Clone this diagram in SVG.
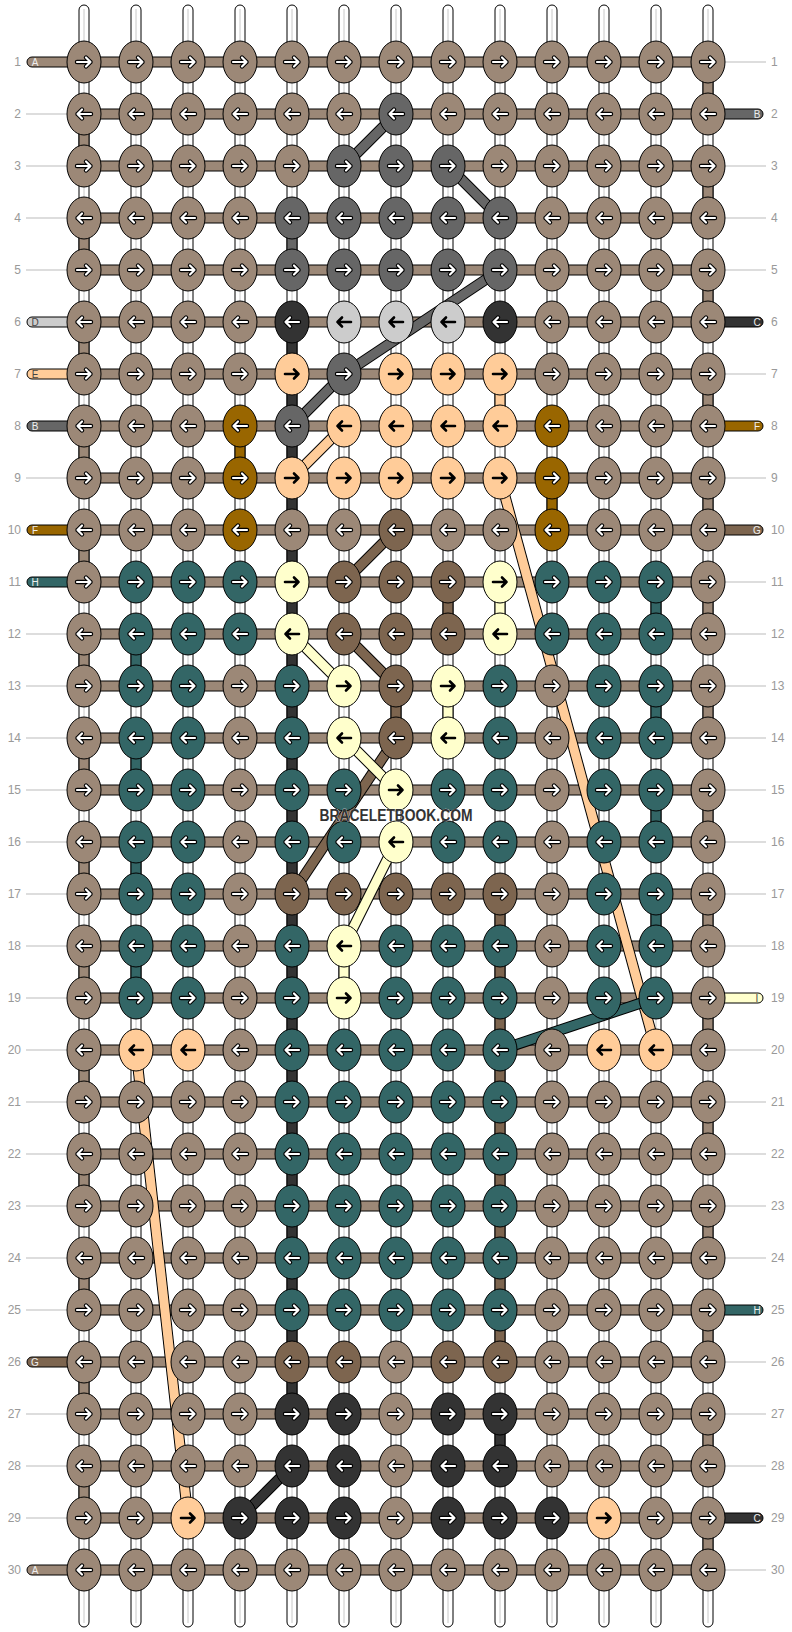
<svg xmlns="http://www.w3.org/2000/svg" xmlns:xlink="http://www.w3.org/1999/xlink" width="792" height="1632" viewBox="0 0 792 1632">
<style>
.T{fill:#9c8877}.G{fill:#666666}.K{fill:#333333}.L{fill:#cccccc}.P{fill:#ffcc99}.O{fill:#996600}.M{fill:#7d654f}.E{fill:#336666}.Y{fill:#ffffcc}
ellipse{stroke:#000;stroke-width:1}
.str{fill:#fff;stroke:#000;stroke-width:1}
.sl{stroke:#c8c8c8;stroke-width:1}
.band{fill:#9c8877;stroke:#000;stroke-width:1}
.seg{stroke:#000;stroke-width:1}
.stub{stroke:#000;stroke-width:1}
.ol{stroke:#000;stroke-width:11;stroke-linecap:butt}
.dg{stroke-width:9;stroke-linecap:butt}
.num{font-family:"Liberation Sans",Arial,sans-serif;font-size:12px;fill:#999}
.lab{font-family:"Liberation Sans",Arial,sans-serif;font-size:10px;fill:#eee;text-anchor:middle}
.labd{fill:#444}
.tl{stroke:#bbb;stroke-width:1}
</style>
<defs>
<path id="pr" d="M-7,0H6.5M2,-4.5L6.5,0L2,4.5"/>
<path id="pl" d="M7,0H-6.5M-2,-4.5L-6.5,0L-2,4.5"/>
<g id="awr" fill="none" stroke-linecap="round" stroke-linejoin="round"><use xlink:href="#pr" stroke="#000" stroke-width="4.4"/><use xlink:href="#pr" stroke="#fff" stroke-width="2.2"/></g>
<g id="awl" fill="none" stroke-linecap="round" stroke-linejoin="round"><use xlink:href="#pl" stroke="#000" stroke-width="4.4"/><use xlink:href="#pl" stroke="#fff" stroke-width="2.2"/></g>
<g id="abr" fill="none" stroke-linecap="round" stroke-linejoin="round"><use xlink:href="#pr" stroke="#000" stroke-width="2.6"/></g>
<g id="abl" fill="none" stroke-linecap="round" stroke-linejoin="round"><use xlink:href="#pl" stroke="#000" stroke-width="2.6"/></g>
<g id="Tr"><ellipse class="T" rx="17" ry="21"/><use xlink:href="#awr"/></g>
<g id="Tl"><ellipse class="T" rx="17" ry="21"/><use xlink:href="#awl"/></g>
<g id="Gr"><ellipse class="G" rx="17" ry="21"/><use xlink:href="#awr"/></g>
<g id="Gl"><ellipse class="G" rx="17" ry="21"/><use xlink:href="#awl"/></g>
<g id="Kr"><ellipse class="K" rx="17" ry="21"/><use xlink:href="#awr"/></g>
<g id="Kl"><ellipse class="K" rx="17" ry="21"/><use xlink:href="#awl"/></g>
<g id="Or"><ellipse class="O" rx="17" ry="21"/><use xlink:href="#awr"/></g>
<g id="Ol"><ellipse class="O" rx="17" ry="21"/><use xlink:href="#awl"/></g>
<g id="Mr"><ellipse class="M" rx="17" ry="21"/><use xlink:href="#awr"/></g>
<g id="Ml"><ellipse class="M" rx="17" ry="21"/><use xlink:href="#awl"/></g>
<g id="Er"><ellipse class="E" rx="17" ry="21"/><use xlink:href="#awr"/></g>
<g id="El"><ellipse class="E" rx="17" ry="21"/><use xlink:href="#awl"/></g>
<g id="Pr"><ellipse class="P" rx="17" ry="21"/><use xlink:href="#abr"/></g>
<g id="Pl"><ellipse class="P" rx="17" ry="21"/><use xlink:href="#abl"/></g>
<g id="Ll"><ellipse class="L" rx="17" ry="21"/><use xlink:href="#abl"/></g>
<g id="Yr"><ellipse class="Y" rx="17" ry="21"/><use xlink:href="#abr"/></g>
<g id="Yl"><ellipse class="Y" rx="17" ry="21"/><use xlink:href="#abl"/></g>
</defs>
<rect width="792" height="1632" fill="#fff"/>
<g id="labels">
<text class="num" text-anchor="end" x="21" y="66">1</text><text class="num" text-anchor="end" x="21" y="118">2</text><text class="num" text-anchor="end" x="21" y="170">3</text><text class="num" text-anchor="end" x="21" y="222">4</text><text class="num" text-anchor="end" x="21" y="274">5</text><text class="num" text-anchor="end" x="21" y="326">6</text><text class="num" text-anchor="end" x="21" y="378">7</text><text class="num" text-anchor="end" x="21" y="430">8</text><text class="num" text-anchor="end" x="21" y="482">9</text><text class="num" text-anchor="end" x="21" y="534">10</text><text class="num" text-anchor="end" x="21" y="586">11</text><text class="num" text-anchor="end" x="21" y="638">12</text><text class="num" text-anchor="end" x="21" y="690">13</text><text class="num" text-anchor="end" x="21" y="742">14</text><text class="num" text-anchor="end" x="21" y="794">15</text><text class="num" text-anchor="end" x="21" y="846">16</text><text class="num" text-anchor="end" x="21" y="898">17</text><text class="num" text-anchor="end" x="21" y="950">18</text><text class="num" text-anchor="end" x="21" y="1002">19</text><text class="num" text-anchor="end" x="21" y="1054">20</text><text class="num" text-anchor="end" x="21" y="1106">21</text><text class="num" text-anchor="end" x="21" y="1158">22</text><text class="num" text-anchor="end" x="21" y="1210">23</text><text class="num" text-anchor="end" x="21" y="1262">24</text><text class="num" text-anchor="end" x="21" y="1314">25</text><text class="num" text-anchor="end" x="21" y="1366">26</text><text class="num" text-anchor="end" x="21" y="1418">27</text><text class="num" text-anchor="end" x="21" y="1470">28</text><text class="num" text-anchor="end" x="21" y="1522">29</text><text class="num" text-anchor="end" x="21" y="1574">30</text>
<text class="num" x="771" y="66">1</text><text class="num" x="771" y="118">2</text><text class="num" x="771" y="170">3</text><text class="num" x="771" y="222">4</text><text class="num" x="771" y="274">5</text><text class="num" x="771" y="326">6</text><text class="num" x="771" y="378">7</text><text class="num" x="771" y="430">8</text><text class="num" x="771" y="482">9</text><text class="num" x="771" y="534">10</text><text class="num" x="771" y="586">11</text><text class="num" x="771" y="638">12</text><text class="num" x="771" y="690">13</text><text class="num" x="771" y="742">14</text><text class="num" x="771" y="794">15</text><text class="num" x="771" y="846">16</text><text class="num" x="771" y="898">17</text><text class="num" x="771" y="950">18</text><text class="num" x="771" y="1002">19</text><text class="num" x="771" y="1054">20</text><text class="num" x="771" y="1106">21</text><text class="num" x="771" y="1158">22</text><text class="num" x="771" y="1210">23</text><text class="num" x="771" y="1262">24</text><text class="num" x="771" y="1314">25</text><text class="num" x="771" y="1366">26</text><text class="num" x="771" y="1418">27</text><text class="num" x="771" y="1470">28</text><text class="num" x="771" y="1522">29</text><text class="num" x="771" y="1574">30</text>
</g>
<g id="sidelines">
<line class="tl" x1="26" y1="114" x2="67" y2="114"/><line class="tl" x1="26" y1="166" x2="67" y2="166"/><line class="tl" x1="26" y1="218" x2="67" y2="218"/><line class="tl" x1="26" y1="270" x2="67" y2="270"/><line class="tl" x1="26" y1="478" x2="67" y2="478"/><line class="tl" x1="26" y1="634" x2="67" y2="634"/><line class="tl" x1="26" y1="686" x2="67" y2="686"/><line class="tl" x1="26" y1="738" x2="67" y2="738"/><line class="tl" x1="26" y1="790" x2="67" y2="790"/><line class="tl" x1="26" y1="842" x2="67" y2="842"/><line class="tl" x1="26" y1="894" x2="67" y2="894"/><line class="tl" x1="26" y1="946" x2="67" y2="946"/><line class="tl" x1="26" y1="998" x2="67" y2="998"/><line class="tl" x1="26" y1="1050" x2="67" y2="1050"/><line class="tl" x1="26" y1="1102" x2="67" y2="1102"/><line class="tl" x1="26" y1="1154" x2="67" y2="1154"/><line class="tl" x1="26" y1="1206" x2="67" y2="1206"/><line class="tl" x1="26" y1="1258" x2="67" y2="1258"/><line class="tl" x1="26" y1="1310" x2="67" y2="1310"/><line class="tl" x1="26" y1="1414" x2="67" y2="1414"/><line class="tl" x1="26" y1="1466" x2="67" y2="1466"/><line class="tl" x1="26" y1="1518" x2="67" y2="1518"/>
<line class="tl" x1="725" y1="62" x2="766" y2="62"/><line class="tl" x1="725" y1="166" x2="766" y2="166"/><line class="tl" x1="725" y1="218" x2="766" y2="218"/><line class="tl" x1="725" y1="270" x2="766" y2="270"/><line class="tl" x1="725" y1="374" x2="766" y2="374"/><line class="tl" x1="725" y1="478" x2="766" y2="478"/><line class="tl" x1="725" y1="582" x2="766" y2="582"/><line class="tl" x1="725" y1="634" x2="766" y2="634"/><line class="tl" x1="725" y1="686" x2="766" y2="686"/><line class="tl" x1="725" y1="738" x2="766" y2="738"/><line class="tl" x1="725" y1="790" x2="766" y2="790"/><line class="tl" x1="725" y1="842" x2="766" y2="842"/><line class="tl" x1="725" y1="894" x2="766" y2="894"/><line class="tl" x1="725" y1="946" x2="766" y2="946"/><line class="tl" x1="725" y1="1050" x2="766" y2="1050"/><line class="tl" x1="725" y1="1102" x2="766" y2="1102"/><line class="tl" x1="725" y1="1154" x2="766" y2="1154"/><line class="tl" x1="725" y1="1206" x2="766" y2="1206"/><line class="tl" x1="725" y1="1258" x2="766" y2="1258"/><line class="tl" x1="725" y1="1362" x2="766" y2="1362"/><line class="tl" x1="725" y1="1414" x2="766" y2="1414"/><line class="tl" x1="725" y1="1466" x2="766" y2="1466"/><line class="tl" x1="725" y1="1570" x2="766" y2="1570"/>
</g>
<g id="connectors">
<g id="strands">
<rect class="str" x="79" y="5" width="10" height="1622" rx="5"/><rect class="str" x="131" y="5" width="10" height="1622" rx="5"/><rect class="str" x="183" y="5" width="10" height="1622" rx="5"/><rect class="str" x="235" y="5" width="10" height="1622" rx="5"/><rect class="str" x="287" y="5" width="10" height="1622" rx="5"/><rect class="str" x="339" y="5" width="10" height="1622" rx="5"/><rect class="str" x="391" y="5" width="10" height="1622" rx="5"/><rect class="str" x="443" y="5" width="10" height="1622" rx="5"/><rect class="str" x="495" y="5" width="10" height="1622" rx="5"/><rect class="str" x="547" y="5" width="10" height="1622" rx="5"/><rect class="str" x="599" y="5" width="10" height="1622" rx="5"/><rect class="str" x="651" y="5" width="10" height="1622" rx="5"/><rect class="str" x="703" y="5" width="10" height="1622" rx="5"/>
<line class="sl" x1="84" y1="9" x2="84" y2="1623"/><line class="sl" x1="136" y1="9" x2="136" y2="1623"/><line class="sl" x1="188" y1="9" x2="188" y2="1623"/><line class="sl" x1="240" y1="9" x2="240" y2="1623"/><line class="sl" x1="292" y1="9" x2="292" y2="1623"/><line class="sl" x1="344" y1="9" x2="344" y2="1623"/><line class="sl" x1="396" y1="9" x2="396" y2="1623"/><line class="sl" x1="448" y1="9" x2="448" y2="1623"/><line class="sl" x1="500" y1="9" x2="500" y2="1623"/><line class="sl" x1="552" y1="9" x2="552" y2="1623"/><line class="sl" x1="604" y1="9" x2="604" y2="1623"/><line class="sl" x1="656" y1="9" x2="656" y2="1623"/><line class="sl" x1="708" y1="9" x2="708" y2="1623"/>
</g>
<g id="vsegs">
<rect class="seg T" x="79" y="129" width="10" height="22"/><rect class="seg T" x="79" y="233" width="10" height="22"/><rect class="seg T" x="79" y="337" width="10" height="22"/><rect class="seg T" x="79" y="441" width="10" height="22"/><rect class="seg T" x="79" y="545" width="10" height="22"/><rect class="seg T" x="79" y="649" width="10" height="22"/><rect class="seg T" x="79" y="753" width="10" height="22"/><rect class="seg T" x="79" y="857" width="10" height="22"/><rect class="seg T" x="79" y="961" width="10" height="22"/><rect class="seg T" x="79" y="1065" width="10" height="22"/><rect class="seg T" x="79" y="1169" width="10" height="22"/><rect class="seg T" x="79" y="1273" width="10" height="22"/><rect class="seg T" x="79" y="1377" width="10" height="22"/><rect class="seg T" x="79" y="1481" width="10" height="22"/>
<rect class="seg T" x="703" y="77" width="10" height="22"/><rect class="seg T" x="703" y="181" width="10" height="22"/><rect class="seg T" x="703" y="285" width="10" height="22"/><rect class="seg T" x="703" y="389" width="10" height="22"/><rect class="seg T" x="703" y="493" width="10" height="22"/><rect class="seg T" x="703" y="597" width="10" height="22"/><rect class="seg T" x="703" y="701" width="10" height="22"/><rect class="seg T" x="703" y="805" width="10" height="22"/><rect class="seg T" x="703" y="909" width="10" height="22"/><rect class="seg T" x="703" y="1013" width="10" height="22"/><rect class="seg T" x="703" y="1117" width="10" height="22"/><rect class="seg T" x="703" y="1221" width="10" height="22"/><rect class="seg T" x="703" y="1325" width="10" height="22"/><rect class="seg T" x="703" y="1429" width="10" height="22"/><rect class="seg T" x="703" y="1533" width="10" height="22"/>
<rect class="seg K" x="287" y="337" width="10" height="1062"/>
<rect class="seg G" x="287" y="233" width="10" height="22"/>
<rect class="seg P" x="495" y="389" width="10" height="22"/>
<rect class="seg O" x="235" y="441" width="10" height="22"/>
<rect class="seg O" x="547" y="493" width="10" height="22"/>
<rect class="seg M" x="443" y="597" width="10" height="22"/>
<rect class="seg Y" x="495" y="597" width="10" height="22"/>
<rect class="seg E" x="131" y="649" width="10" height="22"/><rect class="seg E" x="131" y="753" width="10" height="22"/><rect class="seg E" x="131" y="857" width="10" height="22"/><rect class="seg E" x="131" y="961" width="10" height="22"/>
<rect class="seg E" x="651" y="597" width="10" height="22"/><rect class="seg E" x="651" y="701" width="10" height="22"/><rect class="seg E" x="651" y="805" width="10" height="22"/><rect class="seg E" x="651" y="909" width="10" height="22"/>
<rect class="seg M" x="391" y="701" width="10" height="22"/>
<rect class="seg Y" x="443" y="701" width="10" height="22"/>
<rect class="seg M" x="495" y="909" width="10" height="438"/>
<rect class="seg Y" x="339" y="961" width="10" height="22"/>
<rect class="seg K" x="495" y="1429" width="10" height="22"/>
</g>
<g id="stubs">
<rect class="stub T" x="27" y="57" width="62" height="10" rx="5"/>
<rect class="stub L" x="27" y="317" width="62" height="10" rx="5"/>
<rect class="stub P" x="27" y="369" width="62" height="10" rx="5"/>
<rect class="stub G" x="27" y="421" width="62" height="10" rx="5"/>
<rect class="stub O" x="27" y="525" width="62" height="10" rx="5"/>
<rect class="stub E" x="27" y="577" width="62" height="10" rx="5"/>
<rect class="stub M" x="27" y="1357" width="62" height="10" rx="5"/>
<rect class="stub T" x="27" y="1565" width="62" height="10" rx="5"/>
<rect class="stub G" x="703" y="109" width="60" height="10" rx="5"/>
<rect class="stub K" x="703" y="317" width="60" height="10" rx="5"/>
<rect class="stub O" x="703" y="421" width="60" height="10" rx="5"/>
<rect class="stub M" x="703" y="525" width="60" height="10" rx="5"/>
<rect class="stub Y" x="703" y="993" width="60" height="10" rx="5"/>
<rect class="stub E" x="703" y="1305" width="60" height="10" rx="5"/>
<rect class="stub K" x="703" y="1513" width="60" height="10" rx="5"/>
</g>
<g id="bands">
<rect class="band" x="84" y="57" width="624" height="10"/><rect class="band" x="84" y="109" width="624" height="10"/><rect class="band" x="84" y="161" width="624" height="10"/><rect class="band" x="84" y="213" width="624" height="10"/><rect class="band" x="84" y="265" width="624" height="10"/><rect class="band" x="84" y="317" width="624" height="10"/><rect class="band" x="84" y="369" width="624" height="10"/><rect class="band" x="84" y="421" width="624" height="10"/><rect class="band" x="84" y="473" width="624" height="10"/><rect class="band" x="84" y="525" width="624" height="10"/><rect class="band" x="84" y="577" width="624" height="10"/><rect class="band" x="84" y="629" width="624" height="10"/><rect class="band" x="84" y="681" width="624" height="10"/><rect class="band" x="84" y="733" width="624" height="10"/><rect class="band" x="84" y="785" width="624" height="10"/><rect class="band" x="84" y="837" width="624" height="10"/><rect class="band" x="84" y="889" width="624" height="10"/><rect class="band" x="84" y="941" width="624" height="10"/><rect class="band" x="84" y="993" width="624" height="10"/><rect class="band" x="84" y="1045" width="624" height="10"/><rect class="band" x="84" y="1097" width="624" height="10"/><rect class="band" x="84" y="1149" width="624" height="10"/><rect class="band" x="84" y="1201" width="624" height="10"/><rect class="band" x="84" y="1253" width="624" height="10"/><rect class="band" x="84" y="1305" width="624" height="10"/><rect class="band" x="84" y="1357" width="624" height="10"/><rect class="band" x="84" y="1409" width="624" height="10"/><rect class="band" x="84" y="1461" width="624" height="10"/><rect class="band" x="84" y="1513" width="624" height="10"/><rect class="band" x="84" y="1565" width="624" height="10"/>
</g>
<g id="stublabels">
<text class="lab" x="35" y="66">A</text>
<text class="lab labd" x="35" y="326">D</text>
<text class="lab labd" x="35" y="378">E</text>
<text class="lab" x="35" y="430">B</text>
<text class="lab" x="35" y="534">F</text>
<text class="lab" x="35" y="586">H</text>
<text class="lab" x="35" y="1366">G</text>
<text class="lab" x="35" y="1574">A</text>
<text class="lab" x="757" y="118">B</text>
<text class="lab" x="757" y="326">C</text>
<text class="lab" x="757" y="430">F</text>
<text class="lab" x="757" y="534">G</text>
<text class="lab labd" x="757" y="1002">I</text>
<text class="lab" x="757" y="1314">H</text>
<text class="lab" x="757" y="1522">C</text>
</g>
<g id="diagonals">
<line class="ol" x1="396" y1="114" x2="344" y2="166"/><line class="dg" stroke="#666666" x1="396" y1="114" x2="344" y2="166"/>
<line class="ol" x1="448" y1="166" x2="500" y2="218"/><line class="dg" stroke="#666666" x1="448" y1="166" x2="500" y2="218"/>
<line class="ol" x1="500" y1="270" x2="344" y2="374"/><line class="dg" stroke="#666666" x1="500" y1="270" x2="344" y2="374"/>
<line class="ol" x1="344" y1="374" x2="292" y2="426"/><line class="dg" stroke="#666666" x1="344" y1="374" x2="292" y2="426"/>
<line class="ol" x1="344" y1="426" x2="292" y2="478"/><line class="dg" stroke="#ffcc99" x1="344" y1="426" x2="292" y2="478"/>
<line class="ol" x1="500" y1="478" x2="656" y2="1050"/><line class="dg" stroke="#ffcc99" x1="500" y1="478" x2="656" y2="1050"/>
<line class="ol" x1="136" y1="1050" x2="188" y2="1518"/><line class="dg" stroke="#ffcc99" x1="136" y1="1050" x2="188" y2="1518"/>
<line class="ol" x1="396" y1="530" x2="344" y2="582"/><line class="dg" stroke="#7d654f" x1="396" y1="530" x2="344" y2="582"/>
<line class="ol" x1="344" y1="634" x2="396" y2="686"/><line class="dg" stroke="#7d654f" x1="344" y1="634" x2="396" y2="686"/>
<line class="ol" x1="396" y1="738" x2="292" y2="894"/><line class="dg" stroke="#7d654f" x1="396" y1="738" x2="292" y2="894"/>
<line class="ol" x1="292" y1="634" x2="344" y2="686"/><line class="dg" stroke="#ffffcc" x1="292" y1="634" x2="344" y2="686"/>
<line class="ol" x1="344" y1="738" x2="396" y2="790"/><line class="dg" stroke="#ffffcc" x1="344" y1="738" x2="396" y2="790"/>
<line class="ol" x1="396" y1="842" x2="344" y2="946"/><line class="dg" stroke="#ffffcc" x1="396" y1="842" x2="344" y2="946"/>
<line class="ol" x1="656" y1="998" x2="500" y2="1050"/><line class="dg" stroke="#336666" x1="656" y1="998" x2="500" y2="1050"/>
<line class="ol" x1="292" y1="1466" x2="240" y2="1518"/><line class="dg" stroke="#333333" x1="292" y1="1466" x2="240" y2="1518"/>
</g>
</g>
<g id="nodes">
<g id="n1-1"><use xlink:href="#Tr" x="84" y="62"/></g><g id="n1-2"><use xlink:href="#Tr" x="136" y="62"/></g><g id="n1-3"><use xlink:href="#Tr" x="188" y="62"/></g><g id="n1-4"><use xlink:href="#Tr" x="240" y="62"/></g><g id="n1-5"><use xlink:href="#Tr" x="292" y="62"/></g><g id="n1-6"><use xlink:href="#Tr" x="344" y="62"/></g><g id="n1-7"><use xlink:href="#Tr" x="396" y="62"/></g><g id="n1-8"><use xlink:href="#Tr" x="448" y="62"/></g><g id="n1-9"><use xlink:href="#Tr" x="500" y="62"/></g><g id="n1-10"><use xlink:href="#Tr" x="552" y="62"/></g><g id="n1-11"><use xlink:href="#Tr" x="604" y="62"/></g><g id="n1-12"><use xlink:href="#Tr" x="656" y="62"/></g><g id="n1-13"><use xlink:href="#Tr" x="708" y="62"/></g>
<g id="n2-1"><use xlink:href="#Tl" x="84" y="114"/></g><g id="n2-2"><use xlink:href="#Tl" x="136" y="114"/></g><g id="n2-3"><use xlink:href="#Tl" x="188" y="114"/></g><g id="n2-4"><use xlink:href="#Tl" x="240" y="114"/></g><g id="n2-5"><use xlink:href="#Tl" x="292" y="114"/></g><g id="n2-6"><use xlink:href="#Tl" x="344" y="114"/></g><g id="n2-7"><use xlink:href="#Gl" x="396" y="114"/></g><g id="n2-8"><use xlink:href="#Tl" x="448" y="114"/></g><g id="n2-9"><use xlink:href="#Tl" x="500" y="114"/></g><g id="n2-10"><use xlink:href="#Tl" x="552" y="114"/></g><g id="n2-11"><use xlink:href="#Tl" x="604" y="114"/></g><g id="n2-12"><use xlink:href="#Tl" x="656" y="114"/></g><g id="n2-13"><use xlink:href="#Tl" x="708" y="114"/></g>
<g id="n3-1"><use xlink:href="#Tr" x="84" y="166"/></g><g id="n3-2"><use xlink:href="#Tr" x="136" y="166"/></g><g id="n3-3"><use xlink:href="#Tr" x="188" y="166"/></g><g id="n3-4"><use xlink:href="#Tr" x="240" y="166"/></g><g id="n3-5"><use xlink:href="#Tr" x="292" y="166"/></g><g id="n3-6"><use xlink:href="#Gr" x="344" y="166"/></g><g id="n3-7"><use xlink:href="#Gr" x="396" y="166"/></g><g id="n3-8"><use xlink:href="#Gr" x="448" y="166"/></g><g id="n3-9"><use xlink:href="#Tr" x="500" y="166"/></g><g id="n3-10"><use xlink:href="#Tr" x="552" y="166"/></g><g id="n3-11"><use xlink:href="#Tr" x="604" y="166"/></g><g id="n3-12"><use xlink:href="#Tr" x="656" y="166"/></g><g id="n3-13"><use xlink:href="#Tr" x="708" y="166"/></g>
<g id="n4-1"><use xlink:href="#Tl" x="84" y="218"/></g><g id="n4-2"><use xlink:href="#Tl" x="136" y="218"/></g><g id="n4-3"><use xlink:href="#Tl" x="188" y="218"/></g><g id="n4-4"><use xlink:href="#Tl" x="240" y="218"/></g><g id="n4-5"><use xlink:href="#Gl" x="292" y="218"/></g><g id="n4-6"><use xlink:href="#Gl" x="344" y="218"/></g><g id="n4-7"><use xlink:href="#Gl" x="396" y="218"/></g><g id="n4-8"><use xlink:href="#Gl" x="448" y="218"/></g><g id="n4-9"><use xlink:href="#Gl" x="500" y="218"/></g><g id="n4-10"><use xlink:href="#Tl" x="552" y="218"/></g><g id="n4-11"><use xlink:href="#Tl" x="604" y="218"/></g><g id="n4-12"><use xlink:href="#Tl" x="656" y="218"/></g><g id="n4-13"><use xlink:href="#Tl" x="708" y="218"/></g>
<g id="n5-1"><use xlink:href="#Tr" x="84" y="270"/></g><g id="n5-2"><use xlink:href="#Tr" x="136" y="270"/></g><g id="n5-3"><use xlink:href="#Tr" x="188" y="270"/></g><g id="n5-4"><use xlink:href="#Tr" x="240" y="270"/></g><g id="n5-5"><use xlink:href="#Gr" x="292" y="270"/></g><g id="n5-6"><use xlink:href="#Gr" x="344" y="270"/></g><g id="n5-7"><use xlink:href="#Gr" x="396" y="270"/></g><g id="n5-8"><use xlink:href="#Gr" x="448" y="270"/></g><g id="n5-9"><use xlink:href="#Gr" x="500" y="270"/></g><g id="n5-10"><use xlink:href="#Tr" x="552" y="270"/></g><g id="n5-11"><use xlink:href="#Tr" x="604" y="270"/></g><g id="n5-12"><use xlink:href="#Tr" x="656" y="270"/></g><g id="n5-13"><use xlink:href="#Tr" x="708" y="270"/></g>
<g id="n6-1"><use xlink:href="#Tl" x="84" y="322"/></g><g id="n6-2"><use xlink:href="#Tl" x="136" y="322"/></g><g id="n6-3"><use xlink:href="#Tl" x="188" y="322"/></g><g id="n6-4"><use xlink:href="#Tl" x="240" y="322"/></g><g id="n6-5"><use xlink:href="#Kl" x="292" y="322"/></g><g id="n6-6"><use xlink:href="#Ll" x="344" y="322"/></g><g id="n6-7"><use xlink:href="#Ll" x="396" y="322"/></g><g id="n6-8"><use xlink:href="#Ll" x="448" y="322"/></g><g id="n6-9"><use xlink:href="#Kl" x="500" y="322"/></g><g id="n6-10"><use xlink:href="#Tl" x="552" y="322"/></g><g id="n6-11"><use xlink:href="#Tl" x="604" y="322"/></g><g id="n6-12"><use xlink:href="#Tl" x="656" y="322"/></g><g id="n6-13"><use xlink:href="#Tl" x="708" y="322"/></g>
<g id="n7-1"><use xlink:href="#Tr" x="84" y="374"/></g><g id="n7-2"><use xlink:href="#Tr" x="136" y="374"/></g><g id="n7-3"><use xlink:href="#Tr" x="188" y="374"/></g><g id="n7-4"><use xlink:href="#Tr" x="240" y="374"/></g><g id="n7-5"><use xlink:href="#Pr" x="292" y="374"/></g><g id="n7-6"><use xlink:href="#Gr" x="344" y="374"/></g><g id="n7-7"><use xlink:href="#Pr" x="396" y="374"/></g><g id="n7-8"><use xlink:href="#Pr" x="448" y="374"/></g><g id="n7-9"><use xlink:href="#Pr" x="500" y="374"/></g><g id="n7-10"><use xlink:href="#Tr" x="552" y="374"/></g><g id="n7-11"><use xlink:href="#Tr" x="604" y="374"/></g><g id="n7-12"><use xlink:href="#Tr" x="656" y="374"/></g><g id="n7-13"><use xlink:href="#Tr" x="708" y="374"/></g>
<g id="n8-1"><use xlink:href="#Tl" x="84" y="426"/></g><g id="n8-2"><use xlink:href="#Tl" x="136" y="426"/></g><g id="n8-3"><use xlink:href="#Tl" x="188" y="426"/></g><g id="n8-4"><use xlink:href="#Ol" x="240" y="426"/></g><g id="n8-5"><use xlink:href="#Gl" x="292" y="426"/></g><g id="n8-6"><use xlink:href="#Pl" x="344" y="426"/></g><g id="n8-7"><use xlink:href="#Pl" x="396" y="426"/></g><g id="n8-8"><use xlink:href="#Pl" x="448" y="426"/></g><g id="n8-9"><use xlink:href="#Pl" x="500" y="426"/></g><g id="n8-10"><use xlink:href="#Ol" x="552" y="426"/></g><g id="n8-11"><use xlink:href="#Tl" x="604" y="426"/></g><g id="n8-12"><use xlink:href="#Tl" x="656" y="426"/></g><g id="n8-13"><use xlink:href="#Tl" x="708" y="426"/></g>
<g id="n9-1"><use xlink:href="#Tr" x="84" y="478"/></g><g id="n9-2"><use xlink:href="#Tr" x="136" y="478"/></g><g id="n9-3"><use xlink:href="#Tr" x="188" y="478"/></g><g id="n9-4"><use xlink:href="#Or" x="240" y="478"/></g><g id="n9-5"><use xlink:href="#Pr" x="292" y="478"/></g><g id="n9-6"><use xlink:href="#Pr" x="344" y="478"/></g><g id="n9-7"><use xlink:href="#Pr" x="396" y="478"/></g><g id="n9-8"><use xlink:href="#Pr" x="448" y="478"/></g><g id="n9-9"><use xlink:href="#Pr" x="500" y="478"/></g><g id="n9-10"><use xlink:href="#Or" x="552" y="478"/></g><g id="n9-11"><use xlink:href="#Tr" x="604" y="478"/></g><g id="n9-12"><use xlink:href="#Tr" x="656" y="478"/></g><g id="n9-13"><use xlink:href="#Tr" x="708" y="478"/></g>
<g id="n10-1"><use xlink:href="#Tl" x="84" y="530"/></g><g id="n10-2"><use xlink:href="#Tl" x="136" y="530"/></g><g id="n10-3"><use xlink:href="#Tl" x="188" y="530"/></g><g id="n10-4"><use xlink:href="#Ol" x="240" y="530"/></g><g id="n10-5"><use xlink:href="#Tl" x="292" y="530"/></g><g id="n10-6"><use xlink:href="#Tl" x="344" y="530"/></g><g id="n10-7"><use xlink:href="#Ml" x="396" y="530"/></g><g id="n10-8"><use xlink:href="#Tl" x="448" y="530"/></g><g id="n10-9"><use xlink:href="#Tl" x="500" y="530"/></g><g id="n10-10"><use xlink:href="#Ol" x="552" y="530"/></g><g id="n10-11"><use xlink:href="#Tl" x="604" y="530"/></g><g id="n10-12"><use xlink:href="#Tl" x="656" y="530"/></g><g id="n10-13"><use xlink:href="#Tl" x="708" y="530"/></g>
<g id="n11-1"><use xlink:href="#Tr" x="84" y="582"/></g><g id="n11-2"><use xlink:href="#Er" x="136" y="582"/></g><g id="n11-3"><use xlink:href="#Er" x="188" y="582"/></g><g id="n11-4"><use xlink:href="#Er" x="240" y="582"/></g><g id="n11-5"><use xlink:href="#Yr" x="292" y="582"/></g><g id="n11-6"><use xlink:href="#Mr" x="344" y="582"/></g><g id="n11-7"><use xlink:href="#Mr" x="396" y="582"/></g><g id="n11-8"><use xlink:href="#Mr" x="448" y="582"/></g><g id="n11-9"><use xlink:href="#Yr" x="500" y="582"/></g><g id="n11-10"><use xlink:href="#Er" x="552" y="582"/></g><g id="n11-11"><use xlink:href="#Er" x="604" y="582"/></g><g id="n11-12"><use xlink:href="#Er" x="656" y="582"/></g><g id="n11-13"><use xlink:href="#Tr" x="708" y="582"/></g>
<g id="n12-1"><use xlink:href="#Tl" x="84" y="634"/></g><g id="n12-2"><use xlink:href="#El" x="136" y="634"/></g><g id="n12-3"><use xlink:href="#El" x="188" y="634"/></g><g id="n12-4"><use xlink:href="#El" x="240" y="634"/></g><g id="n12-5"><use xlink:href="#Yl" x="292" y="634"/></g><g id="n12-6"><use xlink:href="#Ml" x="344" y="634"/></g><g id="n12-7"><use xlink:href="#Ml" x="396" y="634"/></g><g id="n12-8"><use xlink:href="#Ml" x="448" y="634"/></g><g id="n12-9"><use xlink:href="#Yl" x="500" y="634"/></g><g id="n12-10"><use xlink:href="#El" x="552" y="634"/></g><g id="n12-11"><use xlink:href="#El" x="604" y="634"/></g><g id="n12-12"><use xlink:href="#El" x="656" y="634"/></g><g id="n12-13"><use xlink:href="#Tl" x="708" y="634"/></g>
<g id="n13-1"><use xlink:href="#Tr" x="84" y="686"/></g><g id="n13-2"><use xlink:href="#Er" x="136" y="686"/></g><g id="n13-3"><use xlink:href="#Er" x="188" y="686"/></g><g id="n13-4"><use xlink:href="#Tr" x="240" y="686"/></g><g id="n13-5"><use xlink:href="#Er" x="292" y="686"/></g><g id="n13-6"><use xlink:href="#Yr" x="344" y="686"/></g><g id="n13-7"><use xlink:href="#Mr" x="396" y="686"/></g><g id="n13-8"><use xlink:href="#Yr" x="448" y="686"/></g><g id="n13-9"><use xlink:href="#Er" x="500" y="686"/></g><g id="n13-10"><use xlink:href="#Tr" x="552" y="686"/></g><g id="n13-11"><use xlink:href="#Er" x="604" y="686"/></g><g id="n13-12"><use xlink:href="#Er" x="656" y="686"/></g><g id="n13-13"><use xlink:href="#Tr" x="708" y="686"/></g>
<g id="n14-1"><use xlink:href="#Tl" x="84" y="738"/></g><g id="n14-2"><use xlink:href="#El" x="136" y="738"/></g><g id="n14-3"><use xlink:href="#El" x="188" y="738"/></g><g id="n14-4"><use xlink:href="#Tl" x="240" y="738"/></g><g id="n14-5"><use xlink:href="#El" x="292" y="738"/></g><g id="n14-6"><use xlink:href="#Yl" x="344" y="738"/></g><g id="n14-7"><use xlink:href="#Ml" x="396" y="738"/></g><g id="n14-8"><use xlink:href="#Yl" x="448" y="738"/></g><g id="n14-9"><use xlink:href="#El" x="500" y="738"/></g><g id="n14-10"><use xlink:href="#Tl" x="552" y="738"/></g><g id="n14-11"><use xlink:href="#El" x="604" y="738"/></g><g id="n14-12"><use xlink:href="#El" x="656" y="738"/></g><g id="n14-13"><use xlink:href="#Tl" x="708" y="738"/></g>
<g id="n15-1"><use xlink:href="#Tr" x="84" y="790"/></g><g id="n15-2"><use xlink:href="#Er" x="136" y="790"/></g><g id="n15-3"><use xlink:href="#Er" x="188" y="790"/></g><g id="n15-4"><use xlink:href="#Tr" x="240" y="790"/></g><g id="n15-5"><use xlink:href="#Er" x="292" y="790"/></g><g id="n15-6"><use xlink:href="#Er" x="344" y="790"/></g><g id="n15-7"><use xlink:href="#Yr" x="396" y="790"/></g><g id="n15-8"><use xlink:href="#Er" x="448" y="790"/></g><g id="n15-9"><use xlink:href="#Er" x="500" y="790"/></g><g id="n15-10"><use xlink:href="#Tr" x="552" y="790"/></g><g id="n15-11"><use xlink:href="#Er" x="604" y="790"/></g><g id="n15-12"><use xlink:href="#Er" x="656" y="790"/></g><g id="n15-13"><use xlink:href="#Tr" x="708" y="790"/></g>
<g id="n16-1"><use xlink:href="#Tl" x="84" y="842"/></g><g id="n16-2"><use xlink:href="#El" x="136" y="842"/></g><g id="n16-3"><use xlink:href="#El" x="188" y="842"/></g><g id="n16-4"><use xlink:href="#Tl" x="240" y="842"/></g><g id="n16-5"><use xlink:href="#El" x="292" y="842"/></g><g id="n16-6"><use xlink:href="#El" x="344" y="842"/></g><g id="n16-7"><use xlink:href="#Yl" x="396" y="842"/></g><g id="n16-8"><use xlink:href="#El" x="448" y="842"/></g><g id="n16-9"><use xlink:href="#El" x="500" y="842"/></g><g id="n16-10"><use xlink:href="#Tl" x="552" y="842"/></g><g id="n16-11"><use xlink:href="#El" x="604" y="842"/></g><g id="n16-12"><use xlink:href="#El" x="656" y="842"/></g><g id="n16-13"><use xlink:href="#Tl" x="708" y="842"/></g>
<g id="n17-1"><use xlink:href="#Tr" x="84" y="894"/></g><g id="n17-2"><use xlink:href="#Er" x="136" y="894"/></g><g id="n17-3"><use xlink:href="#Er" x="188" y="894"/></g><g id="n17-4"><use xlink:href="#Tr" x="240" y="894"/></g><g id="n17-5"><use xlink:href="#Mr" x="292" y="894"/></g><g id="n17-6"><use xlink:href="#Mr" x="344" y="894"/></g><g id="n17-7"><use xlink:href="#Mr" x="396" y="894"/></g><g id="n17-8"><use xlink:href="#Mr" x="448" y="894"/></g><g id="n17-9"><use xlink:href="#Mr" x="500" y="894"/></g><g id="n17-10"><use xlink:href="#Tr" x="552" y="894"/></g><g id="n17-11"><use xlink:href="#Er" x="604" y="894"/></g><g id="n17-12"><use xlink:href="#Er" x="656" y="894"/></g><g id="n17-13"><use xlink:href="#Tr" x="708" y="894"/></g>
<g id="n18-1"><use xlink:href="#Tl" x="84" y="946"/></g><g id="n18-2"><use xlink:href="#El" x="136" y="946"/></g><g id="n18-3"><use xlink:href="#El" x="188" y="946"/></g><g id="n18-4"><use xlink:href="#Tl" x="240" y="946"/></g><g id="n18-5"><use xlink:href="#El" x="292" y="946"/></g><g id="n18-6"><use xlink:href="#Yl" x="344" y="946"/></g><g id="n18-7"><use xlink:href="#El" x="396" y="946"/></g><g id="n18-8"><use xlink:href="#El" x="448" y="946"/></g><g id="n18-9"><use xlink:href="#El" x="500" y="946"/></g><g id="n18-10"><use xlink:href="#Tl" x="552" y="946"/></g><g id="n18-11"><use xlink:href="#El" x="604" y="946"/></g><g id="n18-12"><use xlink:href="#El" x="656" y="946"/></g><g id="n18-13"><use xlink:href="#Tl" x="708" y="946"/></g>
<g id="n19-1"><use xlink:href="#Tr" x="84" y="998"/></g><g id="n19-2"><use xlink:href="#Er" x="136" y="998"/></g><g id="n19-3"><use xlink:href="#Er" x="188" y="998"/></g><g id="n19-4"><use xlink:href="#Tr" x="240" y="998"/></g><g id="n19-5"><use xlink:href="#Er" x="292" y="998"/></g><g id="n19-6"><use xlink:href="#Yr" x="344" y="998"/></g><g id="n19-7"><use xlink:href="#Er" x="396" y="998"/></g><g id="n19-8"><use xlink:href="#Er" x="448" y="998"/></g><g id="n19-9"><use xlink:href="#Er" x="500" y="998"/></g><g id="n19-10"><use xlink:href="#Tr" x="552" y="998"/></g><g id="n19-11"><use xlink:href="#Er" x="604" y="998"/></g><g id="n19-12"><use xlink:href="#Er" x="656" y="998"/></g><g id="n19-13"><use xlink:href="#Tr" x="708" y="998"/></g>
<g id="n20-1"><use xlink:href="#Tl" x="84" y="1050"/></g><g id="n20-2"><use xlink:href="#Pl" x="136" y="1050"/></g><g id="n20-3"><use xlink:href="#Pl" x="188" y="1050"/></g><g id="n20-4"><use xlink:href="#Tl" x="240" y="1050"/></g><g id="n20-5"><use xlink:href="#El" x="292" y="1050"/></g><g id="n20-6"><use xlink:href="#El" x="344" y="1050"/></g><g id="n20-7"><use xlink:href="#El" x="396" y="1050"/></g><g id="n20-8"><use xlink:href="#El" x="448" y="1050"/></g><g id="n20-9"><use xlink:href="#El" x="500" y="1050"/></g><g id="n20-10"><use xlink:href="#Tl" x="552" y="1050"/></g><g id="n20-11"><use xlink:href="#Pl" x="604" y="1050"/></g><g id="n20-12"><use xlink:href="#Pl" x="656" y="1050"/></g><g id="n20-13"><use xlink:href="#Tl" x="708" y="1050"/></g>
<g id="n21-1"><use xlink:href="#Tr" x="84" y="1102"/></g><g id="n21-2"><use xlink:href="#Tr" x="136" y="1102"/></g><g id="n21-3"><use xlink:href="#Tr" x="188" y="1102"/></g><g id="n21-4"><use xlink:href="#Tr" x="240" y="1102"/></g><g id="n21-5"><use xlink:href="#Er" x="292" y="1102"/></g><g id="n21-6"><use xlink:href="#Er" x="344" y="1102"/></g><g id="n21-7"><use xlink:href="#Er" x="396" y="1102"/></g><g id="n21-8"><use xlink:href="#Er" x="448" y="1102"/></g><g id="n21-9"><use xlink:href="#Er" x="500" y="1102"/></g><g id="n21-10"><use xlink:href="#Tr" x="552" y="1102"/></g><g id="n21-11"><use xlink:href="#Tr" x="604" y="1102"/></g><g id="n21-12"><use xlink:href="#Tr" x="656" y="1102"/></g><g id="n21-13"><use xlink:href="#Tr" x="708" y="1102"/></g>
<g id="n22-1"><use xlink:href="#Tl" x="84" y="1154"/></g><g id="n22-2"><use xlink:href="#Tl" x="136" y="1154"/></g><g id="n22-3"><use xlink:href="#Tl" x="188" y="1154"/></g><g id="n22-4"><use xlink:href="#Tl" x="240" y="1154"/></g><g id="n22-5"><use xlink:href="#El" x="292" y="1154"/></g><g id="n22-6"><use xlink:href="#El" x="344" y="1154"/></g><g id="n22-7"><use xlink:href="#El" x="396" y="1154"/></g><g id="n22-8"><use xlink:href="#El" x="448" y="1154"/></g><g id="n22-9"><use xlink:href="#El" x="500" y="1154"/></g><g id="n22-10"><use xlink:href="#Tl" x="552" y="1154"/></g><g id="n22-11"><use xlink:href="#Tl" x="604" y="1154"/></g><g id="n22-12"><use xlink:href="#Tl" x="656" y="1154"/></g><g id="n22-13"><use xlink:href="#Tl" x="708" y="1154"/></g>
<g id="n23-1"><use xlink:href="#Tr" x="84" y="1206"/></g><g id="n23-2"><use xlink:href="#Tr" x="136" y="1206"/></g><g id="n23-3"><use xlink:href="#Tr" x="188" y="1206"/></g><g id="n23-4"><use xlink:href="#Tr" x="240" y="1206"/></g><g id="n23-5"><use xlink:href="#Er" x="292" y="1206"/></g><g id="n23-6"><use xlink:href="#Er" x="344" y="1206"/></g><g id="n23-7"><use xlink:href="#Er" x="396" y="1206"/></g><g id="n23-8"><use xlink:href="#Er" x="448" y="1206"/></g><g id="n23-9"><use xlink:href="#Er" x="500" y="1206"/></g><g id="n23-10"><use xlink:href="#Tr" x="552" y="1206"/></g><g id="n23-11"><use xlink:href="#Tr" x="604" y="1206"/></g><g id="n23-12"><use xlink:href="#Tr" x="656" y="1206"/></g><g id="n23-13"><use xlink:href="#Tr" x="708" y="1206"/></g>
<g id="n24-1"><use xlink:href="#Tl" x="84" y="1258"/></g><g id="n24-2"><use xlink:href="#Tl" x="136" y="1258"/></g><g id="n24-3"><use xlink:href="#Tl" x="188" y="1258"/></g><g id="n24-4"><use xlink:href="#Tl" x="240" y="1258"/></g><g id="n24-5"><use xlink:href="#El" x="292" y="1258"/></g><g id="n24-6"><use xlink:href="#El" x="344" y="1258"/></g><g id="n24-7"><use xlink:href="#El" x="396" y="1258"/></g><g id="n24-8"><use xlink:href="#El" x="448" y="1258"/></g><g id="n24-9"><use xlink:href="#El" x="500" y="1258"/></g><g id="n24-10"><use xlink:href="#Tl" x="552" y="1258"/></g><g id="n24-11"><use xlink:href="#Tl" x="604" y="1258"/></g><g id="n24-12"><use xlink:href="#Tl" x="656" y="1258"/></g><g id="n24-13"><use xlink:href="#Tl" x="708" y="1258"/></g>
<g id="n25-1"><use xlink:href="#Tr" x="84" y="1310"/></g><g id="n25-2"><use xlink:href="#Tr" x="136" y="1310"/></g><g id="n25-3"><use xlink:href="#Tr" x="188" y="1310"/></g><g id="n25-4"><use xlink:href="#Tr" x="240" y="1310"/></g><g id="n25-5"><use xlink:href="#Er" x="292" y="1310"/></g><g id="n25-6"><use xlink:href="#Er" x="344" y="1310"/></g><g id="n25-7"><use xlink:href="#Er" x="396" y="1310"/></g><g id="n25-8"><use xlink:href="#Er" x="448" y="1310"/></g><g id="n25-9"><use xlink:href="#Er" x="500" y="1310"/></g><g id="n25-10"><use xlink:href="#Tr" x="552" y="1310"/></g><g id="n25-11"><use xlink:href="#Tr" x="604" y="1310"/></g><g id="n25-12"><use xlink:href="#Tr" x="656" y="1310"/></g><g id="n25-13"><use xlink:href="#Tr" x="708" y="1310"/></g>
<g id="n26-1"><use xlink:href="#Tl" x="84" y="1362"/></g><g id="n26-2"><use xlink:href="#Tl" x="136" y="1362"/></g><g id="n26-3"><use xlink:href="#Tl" x="188" y="1362"/></g><g id="n26-4"><use xlink:href="#Tl" x="240" y="1362"/></g><g id="n26-5"><use xlink:href="#Ml" x="292" y="1362"/></g><g id="n26-6"><use xlink:href="#Ml" x="344" y="1362"/></g><g id="n26-7"><use xlink:href="#Tl" x="396" y="1362"/></g><g id="n26-8"><use xlink:href="#Ml" x="448" y="1362"/></g><g id="n26-9"><use xlink:href="#Ml" x="500" y="1362"/></g><g id="n26-10"><use xlink:href="#Tl" x="552" y="1362"/></g><g id="n26-11"><use xlink:href="#Tl" x="604" y="1362"/></g><g id="n26-12"><use xlink:href="#Tl" x="656" y="1362"/></g><g id="n26-13"><use xlink:href="#Tl" x="708" y="1362"/></g>
<g id="n27-1"><use xlink:href="#Tr" x="84" y="1414"/></g><g id="n27-2"><use xlink:href="#Tr" x="136" y="1414"/></g><g id="n27-3"><use xlink:href="#Tr" x="188" y="1414"/></g><g id="n27-4"><use xlink:href="#Tr" x="240" y="1414"/></g><g id="n27-5"><use xlink:href="#Kr" x="292" y="1414"/></g><g id="n27-6"><use xlink:href="#Kr" x="344" y="1414"/></g><g id="n27-7"><use xlink:href="#Tr" x="396" y="1414"/></g><g id="n27-8"><use xlink:href="#Kr" x="448" y="1414"/></g><g id="n27-9"><use xlink:href="#Kr" x="500" y="1414"/></g><g id="n27-10"><use xlink:href="#Tr" x="552" y="1414"/></g><g id="n27-11"><use xlink:href="#Tr" x="604" y="1414"/></g><g id="n27-12"><use xlink:href="#Tr" x="656" y="1414"/></g><g id="n27-13"><use xlink:href="#Tr" x="708" y="1414"/></g>
<g id="n28-1"><use xlink:href="#Tl" x="84" y="1466"/></g><g id="n28-2"><use xlink:href="#Tl" x="136" y="1466"/></g><g id="n28-3"><use xlink:href="#Tl" x="188" y="1466"/></g><g id="n28-4"><use xlink:href="#Tl" x="240" y="1466"/></g><g id="n28-5"><use xlink:href="#Kl" x="292" y="1466"/></g><g id="n28-6"><use xlink:href="#Kl" x="344" y="1466"/></g><g id="n28-7"><use xlink:href="#Tl" x="396" y="1466"/></g><g id="n28-8"><use xlink:href="#Kl" x="448" y="1466"/></g><g id="n28-9"><use xlink:href="#Kl" x="500" y="1466"/></g><g id="n28-10"><use xlink:href="#Tl" x="552" y="1466"/></g><g id="n28-11"><use xlink:href="#Tl" x="604" y="1466"/></g><g id="n28-12"><use xlink:href="#Tl" x="656" y="1466"/></g><g id="n28-13"><use xlink:href="#Tl" x="708" y="1466"/></g>
<g id="n29-1"><use xlink:href="#Tr" x="84" y="1518"/></g><g id="n29-2"><use xlink:href="#Tr" x="136" y="1518"/></g><g id="n29-3"><use xlink:href="#Pr" x="188" y="1518"/></g><g id="n29-4"><use xlink:href="#Kr" x="240" y="1518"/></g><g id="n29-5"><use xlink:href="#Kr" x="292" y="1518"/></g><g id="n29-6"><use xlink:href="#Kr" x="344" y="1518"/></g><g id="n29-7"><use xlink:href="#Tr" x="396" y="1518"/></g><g id="n29-8"><use xlink:href="#Kr" x="448" y="1518"/></g><g id="n29-9"><use xlink:href="#Kr" x="500" y="1518"/></g><g id="n29-10"><use xlink:href="#Kr" x="552" y="1518"/></g><g id="n29-11"><use xlink:href="#Pr" x="604" y="1518"/></g><g id="n29-12"><use xlink:href="#Tr" x="656" y="1518"/></g><g id="n29-13"><use xlink:href="#Tr" x="708" y="1518"/></g>
<g id="n30-1"><use xlink:href="#Tl" x="84" y="1570"/></g><g id="n30-2"><use xlink:href="#Tl" x="136" y="1570"/></g><g id="n30-3"><use xlink:href="#Tl" x="188" y="1570"/></g><g id="n30-4"><use xlink:href="#Tl" x="240" y="1570"/></g><g id="n30-5"><use xlink:href="#Tl" x="292" y="1570"/></g><g id="n30-6"><use xlink:href="#Tl" x="344" y="1570"/></g><g id="n30-7"><use xlink:href="#Tl" x="396" y="1570"/></g><g id="n30-8"><use xlink:href="#Tl" x="448" y="1570"/></g><g id="n30-9"><use xlink:href="#Tl" x="500" y="1570"/></g><g id="n30-10"><use xlink:href="#Tl" x="552" y="1570"/></g><g id="n30-11"><use xlink:href="#Tl" x="604" y="1570"/></g><g id="n30-12"><use xlink:href="#Tl" x="656" y="1570"/></g><g id="n30-13"><use xlink:href="#Tl" x="708" y="1570"/></g>
</g>
<text x="396" y="821" text-anchor="middle" font-family="Liberation Sans, Arial, sans-serif" font-size="16" font-weight="bold" fill="#333" stroke="#fff" stroke-width="0.6" paint-order="stroke" textLength="153" lengthAdjust="spacingAndGlyphs">BRACELETBOOK.COM</text>
</svg>
